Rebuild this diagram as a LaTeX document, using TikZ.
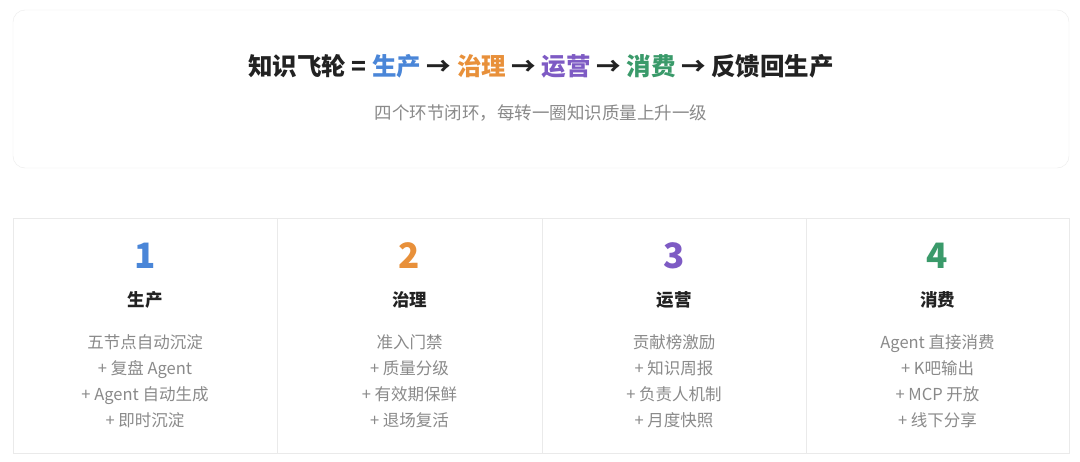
\documentclass[tikz,border=0pt]{standalone}
\usepackage{fontspec}
\setmainfont{Noto Sans CJK SC}
\usetikzlibrary{positioning}

\definecolor{cblue}{HTML}{4A86D8}
\definecolor{corange}{HTML}{E8903A}
\definecolor{cpurple}{HTML}{7E5BC4}
\definecolor{cgreen}{HTML}{3A9A6A}
\definecolor{ctext}{HTML}{222222}
\definecolor{cgrey}{HTML}{8A8A8A}
\definecolor{cline}{HTML}{EAEAEA}

\tikzset{
  stepnum/.style={font=\fontsize{35}{37}\selectfont\bfseries},
  stephead/.style={font=\fontsize{17.5}{20}\selectfont\bfseries, text=ctext},
  stepbody/.style={font=\fontsize{16.5}{26}\selectfont, text=cgrey, align=center},
}

\begin{document}
\begin{tikzpicture}[x=1pt,y=-1pt]
\def\xl{13};
\def\xa{277};
\def\xb{542};
\def\xc{806};
\def\xr{1069};

\def \ya{10};
\def \yb{168};
\def \yc{218};
\def \yd{453};

\useasboundingbox (0,0) rectangle (1080,461);
\fill[white] (0,0) rectangle (1080,461);

% top card
\draw[cline, rounded corners=12pt] (\xl, \ya) rectangle (\xr, \yb);
\node (title) at (541, 66) {\fontsize{24.5}{28}\selectfont\bfseries\color{ctext}%
  知识飞轮 = \textcolor{cblue}{生产} → \textcolor{corange}{治理} → \textcolor{cpurple}{运营} → \textcolor{cgreen}{消费} → 反馈回生产};
\node (sub) at (541, 113) {\fontsize{17.5}{20}\selectfont\color{cgrey}四个环节闭环，每转一圈知识质量上升一级};

% table
\draw[cline] (\xl, \yc) rectangle (\xr, \yd);
\draw[cline] (\xa, \yc) -- (\xa, \yd);
\draw[cline] (\xb, \yc) -- (\xb, \yd);
\draw[cline] (\xc, \yc) -- (\xc, \yd);

\node[stepnum, text=cblue] (n1) at (145, 256) {1};
\node[stephead] (h1) at (145, 300) {生产};
\node[stepbody] (b1) at (145, 381) {五节点自动沉淀\\+ 复盘 Agent\\+ Agent 自动生成\\+ 即时沉淀};

\node[stepnum, text=corange] (n2) at (409.5, 256) {2};
\node[stephead] (h2) at (409.5, 300) {治理};
\node[stepbody] (b2) at (409.5, 381) {准入门禁\\+ 质量分级\\+ 有效期保鲜\\+ 退场复活};

\node[stepnum, text=cpurple] (n3) at (674, 256) {3};
\node[stephead] (h3) at (674, 300) {运营};
\node[stepbody] (b3) at (674, 381) {贡献榜激励\\+ 知识周报\\+ 负责人机制\\+ 月度快照};

\node[stepnum, text=cgreen] (n4) at (937.5, 256) {4};
\node[stephead] (h4) at (937.5, 300) {消费};
\node[stepbody] (b4) at (937.5, 381) {Agent 直接消费\\+ K吧输出\\+ MCP 开放\\+ 线下分享};

\end{tikzpicture}
\end{document}
